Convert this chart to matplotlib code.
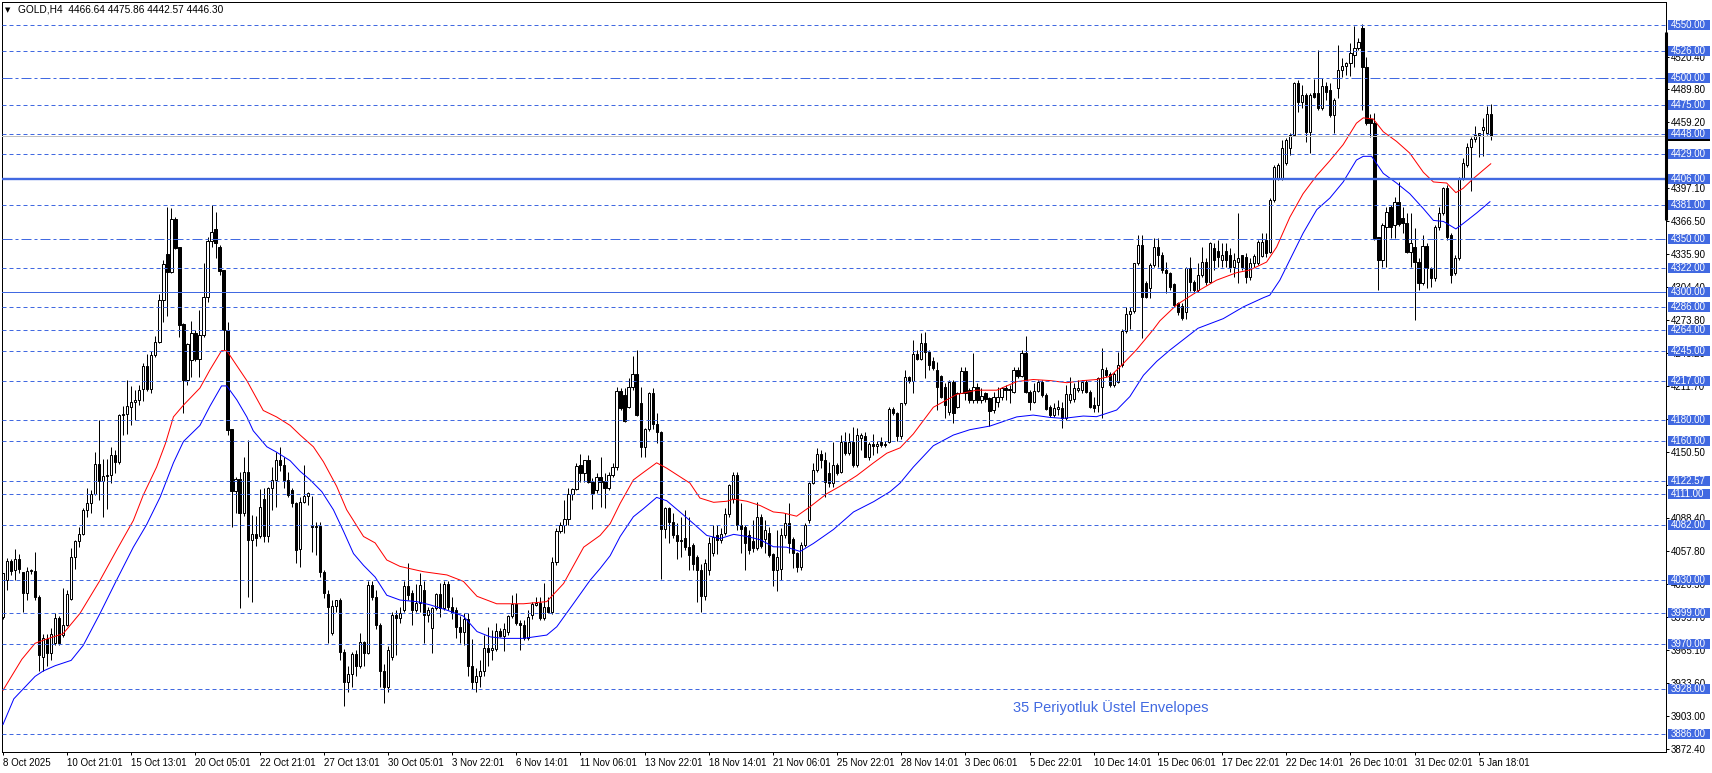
import matplotlib
matplotlib.use("Agg")
import matplotlib.pyplot as plt
from matplotlib.patches import Rectangle
import matplotlib.transforms as mtransforms
import numpy as np

plt.rcParams['font.family'] = ['Liberation Sans', 'DejaVu Sans']

# ---------------- data ----------------
opens = [
3995.9, 4030.2, 4048.0, 4039.6, 4049.6, 4037.4, 4017.7, 4039.0, 4038.6, 4014.0,
3958.0, 3975.0, 3962.0, 3970.9, 3995.0, 3978.7, 3987.7, 4012.1, 4052.0, 4066.4,
4073.0, 4095.8, 4102.0, 4110.5, 4138.9, 4123.0, 4128.0, 4129.0, 4147.3, 4141.0,
4184.7, 4185.7, 4192.6, 4196.6, 4198.8, 4208.7, 4230.6, 4208.7, 4240.9, 4252.8,
4292.4, 4335.5, 4319.0, 4368.0, 4341.7, 4270.0, 4217.5, 4236.2, 4261.8, 4237.0,
4259.6, 4295.0, 4347.7, 4358.6, 4341.7, 4320.5, 4264.3, 4171.3, 4114.0, 4124.5,
4092.7, 4131.7, 4067.7, 4073.0, 4071.0, 4105.8, 4071.5, 4116.0, 4123.9, 4142.6,
4138.0, 4123.9, 4115.0, 4102.0, 4058.9, 4103.6, 4108.9, 4081.0, 4080.0, 4081.0,
4038.0, 4017.1, 3980.3, 4005.9, 4012.0, 3963.0, 3935.0, 3942.0, 3961.0, 3950.0,
3972.5, 3962.0, 4025.5, 4014.0, 3988.0, 3945.0, 3930.0, 3958.4, 3997.4, 3994.3,
4002.1, 4024.6, 4017.7, 4002.0, 4009.0, 4020.9, 3997.4, 3984.9, 4003.7, 4017.1,
4003.7, 4026.5, 4005.2, 4002.0, 3986.5, 3981.8, 3993.4, 3950.0, 3935.0, 3940.0,
3945.0, 3966.2, 3964.6, 3966.0, 3982.8, 3977.8, 3982.0, 3996.5, 4007.7, 3989.6,
3988.0, 3975.6, 3997.4, 4007.0, 4009.0, 3994.3, 4005.0, 4000.6, 4047.4, 4076.4,
4081.7, 4087.0, 4110.5, 4115.4, 4137.9, 4130.1, 4142.6, 4122.3, 4114.5, 4126.4,
4122.9, 4116.7, 4128.5, 4136.3, 4207.2, 4203.5, 4191.9, 4210.6, 4222.8, 4195.7,
4154.4, 4171.3, 4205.0, 4176.0, 4169.1, 4077.6, 4098.0, 4084.2, 4072.3, 4067.0,
4069.8, 4061.4, 4063.0, 4052.0, 4040.0, 4015.0, 4040.0, 4055.2, 4072.3, 4067.7,
4074.5, 4092.0, 4105.7, 4128.5, 4081.7, 4080.0, 4072.3, 4067.0, 4059.8, 4089.5,
4068.3, 4074.5, 4054.5, 4039.6, 4041.0, 4072.3, 4083.3, 4068.3, 4055.2, 4042.7,
4063.0, 4086.4, 4121.4, 4133.2, 4148.2, 4142.6, 4130.0, 4121.4, 4137.9, 4131.6,
4159.8, 4148.8, 4159.8, 4137.9, 4162.9, 4165.0, 4145.7, 4157.6, 4155.7, 4159.8,
4158.0, 4159.8, 4190.3, 4186.3, 4165.0, 4195.6, 4220.0, 4217.0, 4241.6, 4236.9,
4252.5, 4244.0, 4235.0, 4226.9, 4221.3, 4211.3, 4187.9, 4216.0, 4191.9, 4205.7,
4226.3, 4208.0, 4198.8, 4210.6, 4198.8, 4205.7, 4200.3, 4189.0, 4197.2, 4202.0,
4209.7, 4208.1, 4206.6, 4226.9, 4221.3, 4242.5, 4206.6, 4197.2, 4207.5, 4216.0,
4203.5, 4192.5, 4185.0, 4190.0, 4191.0, 4181.6, 4198.8, 4199.4, 4208.1, 4208.1,
4216.0, 4206.6, 4194.0, 4194.1, 4210.6, 4227.0, 4223.1, 4212.8, 4216.0, 4231.6,
4263.7, 4279.3, 4282.5, 4326.8, 4344.0, 4308.0, 4303.4, 4325.2, 4342.4, 4334.6,
4320.5, 4317.4, 4307.4, 4289.3, 4286.8, 4281.5, 4322.1, 4309.6, 4301.8, 4315.8,
4328.3, 4309.6, 4340.8, 4338.6, 4329.9, 4338.6, 4334.6, 4323.6, 4328.3, 4334.6,
4333.0, 4313.7, 4326.8, 4326.8, 4334.0, 4348.6, 4337.7, 4386.1, 4406.4, 4406.4,
4420.4, 4434.5, 4447.0, 4495.4, 4478.2, 4484.4, 4450.1, 4486.0, 4486.0, 4471.9,
4492.9, 4489.0, 4465.7, 4490.7, 4507.8, 4511.6, 4514.7, 4521.9, 4528.1, 4546.9,
4511.0, 4462.0, 4458.0, 4351.1, 4329.9, 4361.1, 4379.8, 4362.7, 4384.5, 4368.9,
4364.2, 4337.7, 4342.4, 4328.3, 4308.0, 4343.0, 4322.1, 4312.7, 4361.1, 4373.6,
4397.0, 4353.3, 4317.4, 4331.4, 4406.4, 4418.9, 4436.0, 4442.9, 4447.0, 4451.6,
4448.5, 4466.64]

highs = [
4037.0, 4050.5, 4050.0, 4059.0, 4054.6, 4038.0, 4042.7, 4041.0, 4056.7, 4016.0,
3980.0, 3980.0, 3985.6, 3999.0, 3997.0, 4022.4, 4020.8, 4059.9, 4067.7, 4080.0,
4097.3, 4116.0, 4114.5, 4150.4, 4180.0, 4144.0, 4144.0, 4155.0, 4152.0, 4186.0,
4193.0, 4217.5, 4211.8, 4208.0, 4212.8, 4233.0, 4241.8, 4244.3, 4258.7, 4297.7,
4329.9, 4379.2, 4378.3, 4370.5, 4342.0, 4270.6, 4252.5, 4273.0, 4264.0, 4283.0,
4326.8, 4351.7, 4381.4, 4375.1, 4343.9, 4321.0, 4272.0, 4172.0, 4127.0, 4131.7,
4145.7, 4161.3, 4091.1, 4090.0, 4115.1, 4116.0, 4117.6, 4136.4, 4150.4, 4155.0,
4145.7, 4131.7, 4116.0, 4103.6, 4108.3, 4137.9, 4113.0, 4108.9, 4084.8, 4085.0,
4039.6, 4020.9, 4011.5, 4012.0, 4013.0, 3966.0, 3950.0, 3963.0, 3965.0, 3981.0,
3973.0, 4029.6, 4029.6, 4020.9, 3990.0, 3952.0, 3968.0, 4000.6, 4002.0, 4005.0,
4029.6, 4045.8, 4020.9, 4026.5, 4036.5, 4029.6, 4005.0, 4005.0, 4018.0, 4027.0,
4029.6, 4029.6, 4014.6, 4005.0, 3997.0, 3999.0, 3999.0, 3975.0, 3948.0, 3955.0,
3978.7, 3986.5, 3983.4, 3989.6, 3985.0, 3989.6, 3997.4, 4016.2, 4018.3, 3992.7,
3992.7, 4002.0, 4010.0, 4014.0, 4014.0, 4027.1, 4014.6, 4052.0, 4078.6, 4084.8,
4105.1, 4116.0, 4116.0, 4140.1, 4148.2, 4143.0, 4147.3, 4125.5, 4130.0, 4145.7,
4130.0, 4131.6, 4139.5, 4211.3, 4209.7, 4210.3, 4219.1, 4240.0, 4245.6, 4211.3,
4172.2, 4206.6, 4210.3, 4186.3, 4170.0, 4098.9, 4099.0, 4092.6, 4083.3, 4089.5,
4095.8, 4089.5, 4064.5, 4054.0, 4045.0, 4050.0, 4070.8, 4081.7, 4081.7, 4078.6,
4097.3, 4119.8, 4131.6, 4131.6, 4102.0, 4081.7, 4077.0, 4086.4, 4103.6, 4092.0,
4086.4, 4080.0, 4055.2, 4077.0, 4079.0, 4092.6, 4102.0, 4070.8, 4056.7, 4066.0,
4083.3, 4122.3, 4139.5, 4153.5, 4152.0, 4150.4, 4141.0, 4159.8, 4140.0, 4166.0,
4169.1, 4167.5, 4173.8, 4172.2, 4167.5, 4169.1, 4159.8, 4167.0, 4160.0, 4164.4,
4160.7, 4192.5, 4192.0, 4187.8, 4196.3, 4226.9, 4221.0, 4255.0, 4245.6, 4261.2,
4262.8, 4245.6, 4239.4, 4234.7, 4222.2, 4214.4, 4217.5, 4217.5, 4206.6, 4230.0,
4230.0, 4209.7, 4242.5, 4214.4, 4209.7, 4206.6, 4202.0, 4206.6, 4211.3, 4211.3,
4212.8, 4212.8, 4230.0, 4230.0, 4245.6, 4258.7, 4208.0, 4214.4, 4217.5, 4217.5,
4205.0, 4194.0, 4195.7, 4198.8, 4197.0, 4212.8, 4220.6, 4214.4, 4217.5, 4217.5,
4217.5, 4208.0, 4201.9, 4220.6, 4247.2, 4230.0, 4225.3, 4225.0, 4244.0, 4265.0,
4285.6, 4286.0, 4327.4, 4353.3, 4353.3, 4310.0, 4326.8, 4350.2, 4350.2, 4337.0,
4328.3, 4319.0, 4308.0, 4290.8, 4289.3, 4323.6, 4333.0, 4311.2, 4326.8, 4342.4,
4331.4, 4347.1, 4345.5, 4348.6, 4346.0, 4345.5, 4340.8, 4336.0, 4373.6, 4335.0,
4336.0, 4331.4, 4335.5, 4348.6, 4355.0, 4354.8, 4387.6, 4418.9, 4420.4, 4442.3,
4443.8, 4448.5, 4496.9, 4498.5, 4493.8, 4486.0, 4486.0, 4499.1, 4526.6, 4500.0,
4496.9, 4495.4, 4481.3, 4531.3, 4518.8, 4515.6, 4532.8, 4549.0, 4537.5, 4551.0,
4520.3, 4467.0, 4467.3, 4351.7, 4364.3, 4379.8, 4381.4, 4389.2, 4403.3, 4379.8,
4373.6, 4373.6, 4359.5, 4331.4, 4353.3, 4345.5, 4323.6, 4362.7, 4379.8, 4398.6,
4400.0, 4355.0, 4334.6, 4407.9, 4425.1, 4439.2, 4445.4, 4455.4, 4449.1, 4462.6,
4474.1, 4475.86]

lows = [
3994.0, 4020.8, 4035.0, 4030.0, 4036.5, 4000.5, 4011.5, 4036.0, 4011.5, 3945.0,
3945.0, 3950.0, 3955.0, 3969.0, 3969.0, 3977.0, 3987.0, 4011.5, 4041.0, 4061.0,
4072.0, 4089.5, 4092.6, 4110.0, 4105.0, 4089.5, 4097.0, 4121.0, 4130.0, 4139.0,
4166.0, 4167.0, 4175.4, 4180.0, 4194.0, 4198.0, 4207.0, 4205.6, 4239.0, 4252.0,
4272.1, 4277.7, 4318.0, 4340.0, 4258.0, 4186.3, 4212.8, 4220.6, 4235.0, 4220.6,
4258.0, 4291.0, 4342.4, 4331.4, 4315.8, 4245.6, 4166.0, 4080.2, 4092.7, 4003.7,
4090.0, 4014.6, 4010.0, 4062.0, 4070.0, 4066.0, 4066.0, 4095.8, 4098.9, 4132.0,
4116.0, 4108.0, 4098.9, 4046.4, 4042.7, 4102.0, 4100.5, 4056.8, 4053.7, 4033.3,
4013.0, 3970.9, 3978.7, 4000.0, 3955.0, 3912.0, 3925.0, 3930.0, 3940.0, 3948.0,
3950.0, 3961.0, 4011.5, 3984.0, 3930.0, 3915.0, 3925.0, 3955.0, 3960.0, 3990.0,
4000.6, 4011.5, 3988.0, 4000.6, 4000.0, 3970.9, 3991.0, 3961.5, 4002.0, 3995.9,
4002.0, 4002.0, 3994.0, 3975.6, 3971.0, 3969.0, 3940.0, 3928.0, 3925.0, 3930.0,
3940.0, 3950.0, 3955.0, 3964.0, 3977.0, 3964.0, 3978.7, 3994.3, 3988.0, 3964.6,
3974.0, 3974.0, 3993.4, 4006.0, 3992.7, 3993.0, 3999.0, 3998.4, 4044.3, 4074.0,
4074.6, 4081.7, 4105.0, 4114.5, 4122.3, 4122.3, 4120.8, 4096.4, 4111.4, 4098.9,
4098.0, 4114.5, 4127.0, 4133.0, 4189.4, 4178.5, 4191.0, 4208.0, 4183.8, 4145.1,
4145.7, 4170.0, 4171.3, 4158.2, 4031.0, 4070.0, 4064.5, 4069.2, 4049.5, 4052.0,
4058.3, 4039.6, 4039.6, 4010.0, 4000.0, 4012.0, 4035.0, 4053.0, 4055.0, 4064.5,
4072.3, 4089.5, 4102.0, 4077.0, 4055.2, 4039.6, 4055.0, 4056.7, 4058.3, 4059.8,
4055.2, 4052.0, 4025.0, 4020.0, 4030.0, 4070.0, 4055.2, 4041.1, 4038.0, 4040.0,
4061.4, 4083.3, 4120.0, 4131.6, 4134.8, 4108.2, 4117.6, 4117.6, 4128.5, 4130.0,
4147.0, 4147.0, 4136.3, 4136.0, 4152.0, 4145.0, 4142.6, 4147.0, 4149.0, 4155.0,
4155.0, 4158.8, 4184.7, 4160.7, 4162.0, 4194.0, 4214.4, 4205.0, 4236.0, 4236.0,
4219.1, 4226.9, 4226.9, 4189.4, 4200.3, 4181.6, 4184.7, 4177.0, 4191.0, 4205.0,
4198.8, 4195.7, 4195.7, 4195.7, 4195.7, 4197.2, 4174.5, 4186.3, 4192.5, 4199.0,
4199.0, 4195.7, 4205.0, 4219.0, 4220.0, 4205.0, 4189.4, 4196.0, 4206.0, 4202.0,
4189.4, 4183.2, 4183.2, 4184.7, 4172.2, 4180.0, 4195.7, 4197.2, 4206.6, 4205.0,
4205.0, 4191.0, 4187.9, 4187.9, 4181.6, 4220.6, 4211.3, 4211.0, 4214.4, 4230.0,
4262.0, 4265.0, 4280.0, 4325.0, 4256.5, 4294.0, 4294.0, 4323.6, 4323.6, 4318.0,
4298.7, 4301.8, 4286.2, 4278.4, 4273.7, 4274.3, 4301.2, 4298.7, 4300.2, 4314.3,
4306.5, 4308.0, 4320.5, 4323.6, 4323.6, 4323.6, 4319.0, 4314.3, 4308.0, 4321.0,
4308.6, 4311.2, 4323.6, 4325.0, 4333.0, 4333.0, 4336.0, 4384.5, 4404.8, 4404.8,
4419.0, 4428.2, 4446.0, 4468.8, 4471.9, 4440.7, 4429.8, 4481.3, 4470.4, 4470.4,
4479.7, 4464.1, 4448.5, 4481.3, 4501.6, 4503.0, 4502.2, 4511.0, 4526.6, 4470.4,
4456.3, 4445.0, 4348.6, 4301.8, 4323.6, 4323.6, 4350.2, 4350.2, 4362.0, 4354.8,
4336.0, 4323.6, 4273.7, 4301.8, 4306.5, 4303.4, 4304.3, 4310.0, 4358.0, 4372.0,
4348.6, 4308.0, 4315.8, 4330.0, 4404.8, 4417.3, 4394.8, 4440.7, 4426.7, 4427.3,
4447.0, 4442.57]

closes = [
4036.5, 4048.0, 4039.0, 4049.6, 4041.0, 4017.7, 4038.6, 4039.5, 4014.6, 3960.0,
3975.6, 3962.0, 3980.0, 3994.3, 3971.0, 3987.7, 4016.8, 4052.0, 4066.4, 4073.0,
4095.8, 4102.0, 4110.5, 4138.9, 4123.0, 4128.0, 4129.0, 4147.3, 4141.0, 4184.7,
4185.7, 4193.0, 4196.6, 4198.8, 4208.1, 4230.6, 4208.7, 4240.9, 4252.8, 4292.4,
4326.1, 4319.0, 4368.0, 4340.8, 4269.0, 4217.5, 4250.9, 4261.8, 4236.8, 4259.6,
4294.9, 4347.7, 4355.8, 4346.1, 4319.9, 4264.3, 4170.7, 4113.9, 4124.5, 4092.7,
4131.7, 4067.7, 4073.3, 4070.0, 4098.3, 4071.5, 4116.0, 4123.9, 4142.6, 4138.0,
4123.9, 4109.8, 4102.0, 4058.3, 4103.6, 4108.9, 4112.0, 4080.0, 4081.0, 4038.0,
4017.7, 4005.2, 4005.9, 4011.5, 3963.1, 3935.0, 3942.0, 3961.0, 3950.0, 3972.5,
3961.5, 4025.5, 4014.0, 3988.0, 3945.0, 3930.0, 3964.6, 3997.4, 3994.3, 3999.0,
4024.6, 4016.2, 4002.1, 4009.0, 4025.5, 3997.4, 4002.0, 4003.7, 4017.1, 4003.7,
4026.5, 4005.2, 3999.0, 3986.5, 3981.8, 3993.4, 3950.0, 3935.0, 3940.0, 3945.0,
3966.2, 3963.0, 3967.0, 3982.8, 3977.8, 3984.0, 3996.5, 4007.7, 3989.6, 3988.5,
3975.6, 3995.9, 4007.4, 4009.0, 3994.3, 4004.6, 4000.6, 4047.4, 4076.4, 4081.7,
4087.0, 4110.5, 4115.4, 4137.0, 4130.1, 4142.6, 4122.3, 4112.0, 4126.4, 4122.3,
4116.7, 4128.5, 4136.3, 4207.2, 4191.0, 4179.4, 4210.6, 4222.8, 4184.7, 4154.4,
4171.3, 4205.0, 4176.0, 4169.1, 4077.6, 4097.3, 4084.2, 4072.3, 4067.0, 4068.0,
4061.4, 4053.6, 4044.9, 4039.6, 4015.0, 4045.8, 4064.5, 4070.8, 4067.7, 4073.3,
4092.0, 4119.2, 4128.5, 4081.7, 4077.6, 4064.5, 4058.3, 4059.8, 4089.5, 4062.0,
4077.0, 4053.6, 4039.6, 4051.7, 4072.3, 4083.3, 4064.5, 4055.2, 4042.7, 4063.0,
4081.7, 4121.4, 4133.2, 4148.2, 4142.6, 4122.3, 4121.4, 4137.9, 4130.1, 4159.8,
4148.8, 4159.8, 4137.9, 4166.0, 4166.0, 4145.7, 4157.6, 4155.7, 4157.6, 4156.6,
4157.0, 4190.3, 4186.3, 4165.0, 4195.6, 4220.0, 4216.9, 4241.6, 4236.9, 4252.5,
4244.0, 4231.6, 4229.0, 4211.3, 4202.0, 4194.1, 4216.0, 4186.3, 4205.7, 4226.3,
4205.7, 4198.8, 4210.6, 4198.8, 4202.5, 4199.4, 4188.8, 4202.0, 4202.0, 4209.7,
4208.1, 4209.0, 4226.9, 4221.3, 4242.5, 4206.6, 4197.2, 4207.5, 4216.0, 4203.5,
4190.0, 4184.7, 4191.0, 4192.0, 4181.6, 4204.4, 4204.4, 4209.7, 4209.7, 4216.0,
4206.6, 4192.5, 4191.0, 4219.1, 4227.5, 4222.2, 4212.8, 4223.1, 4231.6, 4263.7,
4279.3, 4282.5, 4326.8, 4344.0, 4295.6, 4295.6, 4325.2, 4342.4, 4334.6, 4320.5,
4317.4, 4304.3, 4287.7, 4281.5, 4275.2, 4322.1, 4309.6, 4301.8, 4315.8, 4328.3,
4309.6, 4345.5, 4329.9, 4333.0, 4334.6, 4329.9, 4323.6, 4329.9, 4331.4, 4323.6,
4313.7, 4326.8, 4333.6, 4347.1, 4347.0, 4336.1, 4386.1, 4417.3, 4418.9, 4434.5,
4442.3, 4447.0, 4495.4, 4478.2, 4484.4, 4450.1, 4484.4, 4482.9, 4471.9, 4492.9,
4487.5, 4465.7, 4479.7, 4507.8, 4511.6, 4514.7, 4523.4, 4528.1, 4534.4, 4511.0,
4457.9, 4458.0, 4350.2, 4329.9, 4362.7, 4375.2, 4361.1, 4384.5, 4363.6, 4364.2,
4337.7, 4345.5, 4328.3, 4308.0, 4343.0, 4322.1, 4312.7, 4361.1, 4373.6, 4397.0,
4351.7, 4315.8, 4331.4, 4406.4, 4420.4, 4436.0, 4442.9, 4447.0, 4448.5, 4454.8,
4466.6, 4446.30]

# envelope lines (read at sample bars)
upper_idx = [0, 4.7, 8, 10.9, 15, 19.2, 24.2, 28.3, 32.5, 35, 38.3, 40.5, 42.5, 45, 49.1, 51.6,
             54.5, 55.8, 57.4, 60.8, 64.9, 68.2, 71.6, 74.1, 77.4, 79.9, 83.2, 85.7, 89.9, 92.8,
             95.7, 99, 104.9, 110.7, 114.8, 118.2, 123.1, 129.8, 135.6, 139.8, 144.8, 148.9,
             151.4, 153.9, 157.2, 159.7, 163, 165.5, 168.8, 171.3, 173.8, 177.2, 180.5, 182.2,
             185.5, 188.8, 192.1, 194.6, 197.9, 201.3, 205.4, 208.7, 212.9, 217.1, 220.4, 223.7,
             227, 232, 237.8, 242.8, 247.8, 252.8, 256.9, 261.1, 265.3, 269.4, 272.7, 276.1,
             278.6, 282.7, 286.9, 288.5, 292.7, 298.5, 302.6, 307.6, 310.9, 315.1, 317.6, 320.9,
             324.2, 327.6, 330.9, 334.2, 337.5, 339.2, 341.7, 344.2, 347.5, 350.8, 354.2, 356.7,
             360, 362.3, 364.1, 366.6, 369.1, 371]
upper_val = [3927, 3956, 3971, 3975, 3980, 3999, 4030, 4058, 4086, 4110, 4136, 4158, 4183, 4194,
             4210, 4227, 4245, 4245, 4236, 4217, 4189, 4183, 4175, 4166, 4155, 4141, 4118, 4096,
             4071, 4065, 4049, 4043, 4038, 4035, 4029, 4015, 4008, 4008, 4010, 4027, 4061, 4072,
             4083, 4102, 4124, 4131, 4140, 4135, 4127, 4121, 4107, 4103, 4104, 4106, 4104, 4100,
             4094, 4093, 4090, 4099, 4111, 4118, 4128, 4140, 4149, 4154, 4167, 4192, 4204, 4208,
             4208, 4216, 4218, 4217, 4215, 4217, 4218, 4221, 4230, 4246, 4265, 4273, 4288, 4302,
             4311, 4318, 4320.5, 4328, 4342, 4370, 4392, 4409, 4423, 4438, 4458, 4463, 4462, 4450,
             4441, 4430, 4412, 4403, 4402, 4393, 4397, 4406, 4414, 4420]

lower_idx = [0, 2.7, 8, 10, 13, 17, 20, 24.2, 28.3, 32.5, 35.8, 39.2, 42.5, 45, 49.1, 51.6, 54.5,
             55.8, 58.3, 60.8, 62.4, 65.8, 68.2, 71.6, 74.1, 76.6, 79.5, 82.4, 84.9, 87.4, 89.9,
             92.8, 95.7, 99, 103.2, 106.5, 110.7, 114.8, 118.2, 121.5, 124.8, 129.8, 135.6, 138.1,
             142.3, 146.4, 148.9, 151.4, 153.9, 157.2, 159.7, 163, 165.5, 168.8, 172.2, 175.5,
             178.8, 182.2, 185.5, 188.8, 192.1, 195.4, 198.8, 202.1, 207.1, 212.1, 217.1, 221.2,
             223.7, 227, 232, 237, 241.1, 246.1, 252.8, 256.9, 261.1, 264.4, 269.4, 272.7, 277.7,
             281, 284.4, 287.7, 291, 298, 304.3, 309.3, 314.3, 315.9, 318.4, 320.9, 324.2, 327.6,
             330.9, 334.2, 337.5, 339.2, 341.3, 344.2, 347.5, 350.8, 354.2, 356.7, 359.2, 362.3,
             364.1, 367.5, 370.8]
lower_val = [3895, 3919, 3940, 3945, 3950, 3955, 3969, 3999, 4030, 4061, 4082, 4108, 4140, 4160,
             4175, 4193, 4212, 4212, 4199, 4183, 4170, 4155, 4150, 4142, 4132, 4124, 4113, 4096,
             4076, 4055, 4044, 4033, 4016, 4011.5, 4010, 4007, 4002, 3996.5, 3982, 3977, 3975.6,
             3975.6, 3978.7, 3986.5, 4008.4, 4030, 4041, 4053, 4071, 4089.5, 4097, 4107.6, 4104.5,
             4094, 4083, 4072, 4069, 4073, 4071, 4068, 4061.4, 4061, 4057, 4064.5, 4077.6, 4094,
             4103.6, 4113, 4121, 4136, 4156, 4166, 4171, 4174.4, 4183, 4184.7, 4182.5, 4181.6,
             4183.8, 4183.2, 4189.4, 4202, 4222, 4235, 4245.6, 4266, 4275, 4286, 4294.6, 4297,
             4311, 4330, 4355, 4377, 4388, 4403, 4423.5, 4427, 4427, 4411, 4402, 4392, 4378, 4367,
             4366, 4359, 4364, 4374, 4384.5]

# horizontal levels drawn on the chart
levels = [4550, 4526, 4500, 4475, 4448, 4429, 4406, 4381, 4350, 4322, 4300, 4286, 4264,
          4245, 4217, 4180, 4160, 4122.57, 4111, 4082, 4030, 3999, 3970, 3928, 3886]
dashdot_levels = [4500, 4350]
thick_level = 4406
thin_solid_level = 4300
bid_price = 4446.30

axis_ticks = [4520.40, 4489.80, 4459.20, 4428.60, 4397.10, 4366.50, 4335.90, 4304.40,
              4273.80, 4243.20, 4211.70, 4181.10, 4150.50, 4119.00, 4088.40, 4057.80,
              4026.30, 3995.70, 3965.10, 3933.60, 3903.00, 3872.40]
# scale labels that sit entirely behind a level label in the reference
hidden_ticks = [4428.60, 4181.10, 4119.00]

time_tick_bars = list(range(0, 369, 16))
time_labels = ["8 Oct 2025", "10 Oct 21:01", "15 Oct 13:01", "20 Oct 05:01", "22 Oct 21:01",
               "27 Oct 13:01", "30 Oct 05:01", "3 Nov 22:01", "6 Nov 14:01", "11 Nov 06:01",
               "13 Nov 22:01", "18 Nov 14:01", "21 Nov 06:01", "25 Nov 22:01", "28 Nov 14:01",
               "3 Dec 06:01", "5 Dec 22:01", "10 Dec 14:01", "15 Dec 06:01", "17 Dec 22:01",
               "22 Dec 14:01", "26 Dec 10:01", "31 Dec 02:01", "5 Jan 18:01"]

title = "GOLD,H4  4466.64 4475.86 4442.57 4446.30"
note = "35 Periyotluk Üstel Envelopes"

# ---------------- drawing ----------------
W, H = 1712, 773
ROYAL = '#4169E1'
PX = 0.72  # one pixel in points

fig = plt.figure(figsize=(W / 100, H / 100), dpi=100)
L_PX, R_PX, T_PX, B_PX = 2, 1666, 2, 752
ax = fig.add_axes([L_PX / W, 1 - B_PX / H, (R_PX - L_PX) / W, (B_PX - T_PX) / H])

o = np.array(opens); hi = np.array(highs); lo = np.array(lows); c = np.array(closes)
x = np.arange(len(c))
up = c >= o
ax.vlines(x, np.minimum(lo, np.minimum(o, c)), np.maximum(hi, np.maximum(o, c)),
          color='black', lw=PX, zorder=2)
bottoms = np.minimum(o, c)
heights = np.abs(c - o)
ax.bar(x[up], heights[up], bottom=bottoms[up], width=0.55, facecolor='white',
       edgecolor='black', linewidth=PX, zorder=3)
ax.bar(x[~up], heights[~up], bottom=bottoms[~up], width=0.55, facecolor='black',
       edgecolor='black', linewidth=PX, zorder=3)

ax.plot(upper_idx, upper_val, color='#FF0000', lw=PX, zorder=4)
ax.plot(lower_idx, lower_val, color='#0000FF', lw=PX, zorder=4)

ax.axhline(bid_price, color='#C0C0C0', lw=PX, zorder=4.5)
for v in levels:
    if v == thick_level:
        ax.axhline(v, color=ROYAL, lw=1.7, zorder=5)
    elif v == thin_solid_level:
        ax.axhline(v, color=ROYAL, lw=PX, zorder=5)
    elif v in dashdot_levels:
        ax.axhline(v, color=ROYAL, lw=PX, ls=(0, (10, 3, 3, 3)), zorder=5)
    else:
        ax.axhline(v, color=ROYAL, lw=PX, ls=(0, (4, 3)), zorder=5)

ax.set_xlim(-0.25, 414.7)
ax.set_ylim(3869.2, 4571.5)

# axes / ticks
for s in ax.spines.values():
    s.set_color('black'); s.set_linewidth(PX)
ax.yaxis.tick_right()
ax.set_yticks(axis_ticks)
ax.set_yticklabels(["" if v in hidden_ticks else f"{v:.2f}" for v in axis_ticks])
ax.tick_params(axis='y', right=True, left=False, length=3 * PX, width=PX, pad=1.5,
               labelsize=7, direction='out')
ax.set_xticks(time_tick_bars)
ax.set_xticklabels(time_labels)
ax.tick_params(axis='x', length=3 * PX, width=PX, pad=2, labelsize=7, direction='out')
for lab in ax.get_xticklabels():
    lab.set_ha('left')

trans = mtransforms.blended_transform_factory(ax.transAxes, ax.transData)
box_x0 = (1668 - L_PX) / (R_PX - L_PX)
box_w = 42 / (R_PX - L_PX)
box_h = 10 / 1.0678
txt_x = (1671 - L_PX) / (R_PX - L_PX)

# bid price box (mostly covered)
ax.add_artist(Rectangle((box_x0, bid_price - 0.55 * box_h), box_w, 1.1 * box_h, transform=trans,
                        facecolor='black', edgecolor='none', clip_on=False, zorder=5.5))
# thick black marker on the price scale
ax.plot([1.0, 1.0], [4367.4, 4543.7], transform=trans, color='black', lw=2.2,
        solid_capstyle='butt', clip_on=False, zorder=6.5)

for v in levels:
    ax.add_artist(Rectangle((box_x0, v - box_h / 2), box_w, box_h, transform=trans,
                            facecolor=ROYAL, edgecolor='none', clip_on=False, zorder=6))
    ax.text(txt_x, v, f"{v:.2f}", transform=trans, color='white', fontsize=7,
            ha='left', va='center', clip_on=False, zorder=7)

# title and note
ax.text((5 - L_PX) / (R_PX - L_PX), (B_PX - 10) / (B_PX - T_PX), "▼", transform=ax.transAxes,
        fontsize=5, family=['DejaVu Sans'], ha='left', va='center', zorder=8)
ax.text((18 - L_PX) / (R_PX - L_PX), (B_PX - 10) / (B_PX - T_PX), title, transform=ax.transAxes,
        fontsize=7.3, ha='left', va='center', zorder=8)
ax.text((1111 - L_PX) / (R_PX - L_PX), (B_PX - 707.5) / (B_PX - T_PX), note,
        transform=ax.transAxes, color=ROYAL, fontsize=10.5, ha='center', va='center', zorder=8)

fig.savefig("out.png", dpi=100, facecolor='white')
